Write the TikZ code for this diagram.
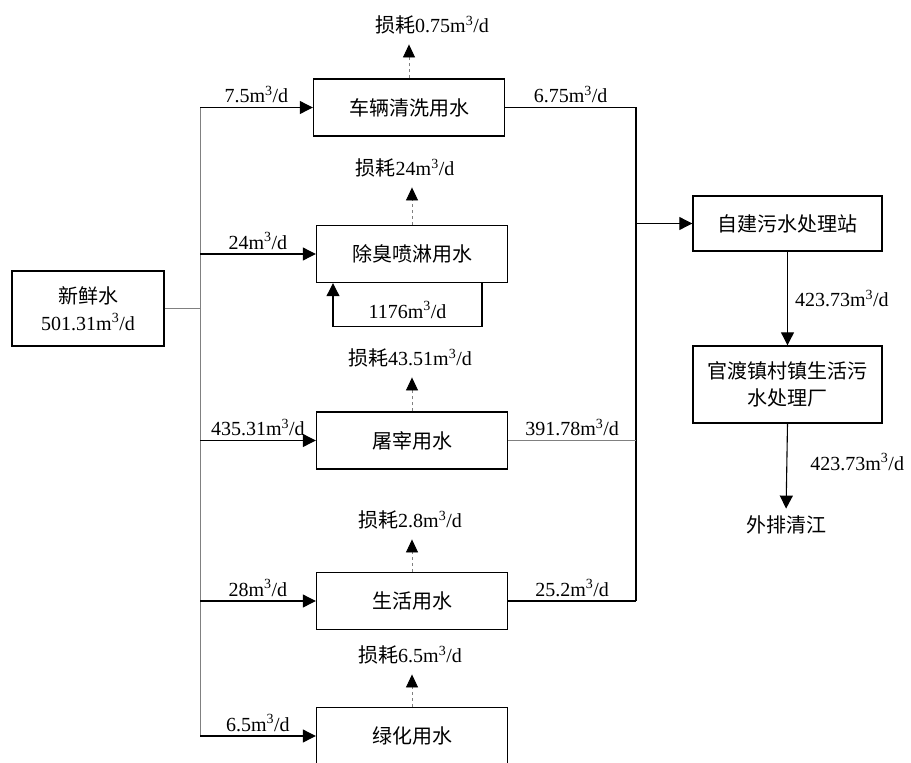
\documentclass[tikz,border=0pt]{standalone}
\usepackage{fontspec}
\setmainfont{Liberation Serif}
\newfontfamily\cjk{Noto Sans CJK SC}
\usetikzlibrary{arrows.meta}
\newcommand{\flow}[1]{#1m\textsuperscript{3}/d}

\begin{document}
\begin{tikzpicture}[x=1pt,y=-1pt,
  every node/.style={font=\fontsize{20}{27}\selectfont,inner sep=1pt},
  box/.style={draw=black,line width=1.4pt,minimum width=191pt,minimum height=57pt,align=center},
  flowline/.style={line width=1.1pt,-{Triangle[length=13pt,width=13pt]}},
  pipe/.style={line width=1.1pt},
  trunk/.style={gray,line width=0.9pt},
  loss/.style={gray,line width=0.8pt,dash pattern=on 3pt off 3pt,shorten >=9pt,-{Triangle[length=13pt,width=12pt,color=black,fill=black]}}]
  \useasboundingbox (0,0) rectangle (911,763);
  \node[box,minimum width=152pt,minimum height=75pt] (fresh) at (88,308.5) {{\cjk 新鲜水}\\\flow{501.31}};
  \node[box] (wash) at (409,107.5) {\cjk 车辆清洗用水};
  \node[box] (odor) at (412,254) {\cjk 除臭喷淋用水};
  \node[box] (kill) at (412,440.5) {\cjk 屠宰用水};
  \node[box] (life) at (412,601) {\cjk 生活用水};
  \node[box] (green) at (412,736) {\cjk 绿化用水};
  \node[box,minimum width=189pt,minimum height=55pt] (plant) at (787.5,223.5) {\cjk 自建污水处理站};
  \node[box,minimum width=189pt,minimum height=77pt] (town) at (787.5,384.5) {{\cjk 官渡镇村镇生活污}\\{\cjk 水处理厂}};
  \node (river) at (786,525) {\cjk 外排清江};
  \node (l1) at (432,25) {{\cjk 损耗}\flow{0.75}};
  \node (l2) at (405,168) {{\cjk 损耗}\flow{24}};
  \node (l3) at (410,358) {{\cjk 损耗}\flow{43.51}};
  \node (l4) at (410,520) {{\cjk 损耗}\flow{2.8}};
  \node (l5) at (410,655) {{\cjk 损耗}\flow{6.5}};
  \coordinate (tee) at (200,307);
  \coordinate (col) at (636,224);
  \draw[trunk] (fresh.east) -- (fresh.east -| tee);
  \draw[trunk] (tee |- wash.west) -- (tee |- green.west);
  \draw[flowline] (tee |- wash.west) -- (wash.west) node[midway,above=3pt] (q1) {\flow{7.5}};
  \draw[flowline] (tee |- odor.west) -- (odor.west) node[midway,above=3pt] (q2) {\flow{24}};
  \draw[flowline] (tee |- kill.west) -- (kill.west) node[midway,above=3pt] (q3) {\flow{435.31}};
  \draw[flowline] (tee |- life.west) -- (life.west) node[midway,above=3pt] (q4) {\flow{28}};
  \draw[flowline] (tee |- green.west) -- (green.west) node[midway,above=3pt] (q5) {\flow{6.5}};
  \draw[flowline] ([xshift=70pt]odor.south) -- ++(0,43) -| ([xshift=-79pt]odor.south) node[pos=0.25,above=6pt] (rec) {\flow{1176}};
  \draw[loss] (wash.north) -- (wash.north |- l1.south);
  \draw[loss] (odor.north) -- (odor.north |- l2.south);
  \draw[loss] (kill.north) -- (kill.north |- l3.south);
  \draw[loss] (life.north) -- (life.north |- l4.south);
  \draw[loss] (green.north) -- (green.north |- l5.south);
  \draw[pipe] (wash.east) -- (wash.east -| col) node[midway,above=3pt] (o1) {\flow{6.75}} -- (life.east -| col);
  \draw[pipe] (life.east) -- (life.east -| col) node[midway,above=3pt] (o3) {\flow{25.2}};
  \draw[trunk] (kill.east) -- (kill.east -| col) node[midway,above=3pt,black] (o2) {\flow{391.78}};
  \draw[flowline] (plant.west -| col) -- (plant.west);
  \draw[flowline] (plant.south) -- (town.north) node[midway,right=6pt] (d1) {\flow{423.73}};
  \draw[flowline,shorten >=6pt] (town.south) -- (river.north) node[pos=0.42,right=22pt] (d2) {\flow{423.73}};
\end{tikzpicture}
\end{document}
